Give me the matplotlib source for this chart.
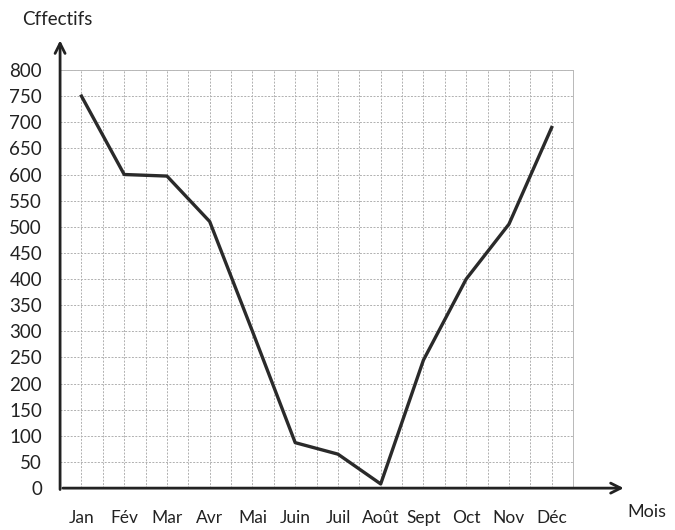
import numpy as np
import matplotlib
matplotlib.use("Agg")
import matplotlib.pyplot as plt

mois = ["Jan", "Fév", "Mar", "Avr", "Mai", "Juin", "Juil", "Août", "Sept", "Oct", "Nov", "Déc"]
effectifs = [750, 600, 597, 510, 300, 87, 65, 8, 245, 400, 505, 690]

plt.rcParams['font.family'] = ['Lato', 'DejaVu Sans']

fig = plt.figure(figsize=(6.75, 5.3), dpi=100)
ax = fig.add_axes([0.089, 0.079, 0.760, 0.789])

# un mois = deux carreaux
xpos = np.arange(len(mois)) * 2 + 1
ax.plot(xpos, effectifs, color='#2a2a2a', lw=2.4, solid_joinstyle='round', zorder=3)

ax.set_xlim(0, 24)
ax.set_ylim(0, 800)
ax.set_xticks(xpos)
ax.set_xticklabels(mois, fontsize=12.5)
ax.set_xticks(np.arange(0, 25), minor=True)
ax.set_yticks(np.arange(0, 801, 50))
ax.tick_params(axis='both', which='both', length=0, colors='#222')
ax.tick_params(axis='x', pad=16)
ax.tick_params(axis='y', pad=13, labelsize=13.5)

ax.grid(which='both', axis='x', color='#b0b0b0', lw=0.7, ls=(0, (2, 1.5)))
ax.grid(which='major', axis='y', color='#b0b0b0', lw=0.7, ls=(0, (2, 1.5)))
for s in ['left', 'bottom']:
    ax.spines[s].set_visible(False)
for s in ['top', 'right']:
    ax.spines[s].set_color('#b8b8b8')
    ax.spines[s].set_linewidth(0.7)

# axes avec flèches
ax.annotate('', xy=(0, 862), xytext=(0, -8), annotation_clip=False,
            arrowprops=dict(arrowstyle='->', lw=2, color='#222', mutation_scale=18))
ax.annotate('', xy=(26.5, 0), xytext=(0, 0), annotation_clip=False,
            arrowprops=dict(arrowstyle='->', lw=2, color='#222', mutation_scale=18))

fig.text(0.033, 0.964, "Cffectifs", fontsize=13.5, ha='left', va='center', color='#222')
fig.text(0.930, 0.034, "Mois", fontsize=13, ha='left', va='center', color='#222')

fig.savefig("out.png", dpi=100)
